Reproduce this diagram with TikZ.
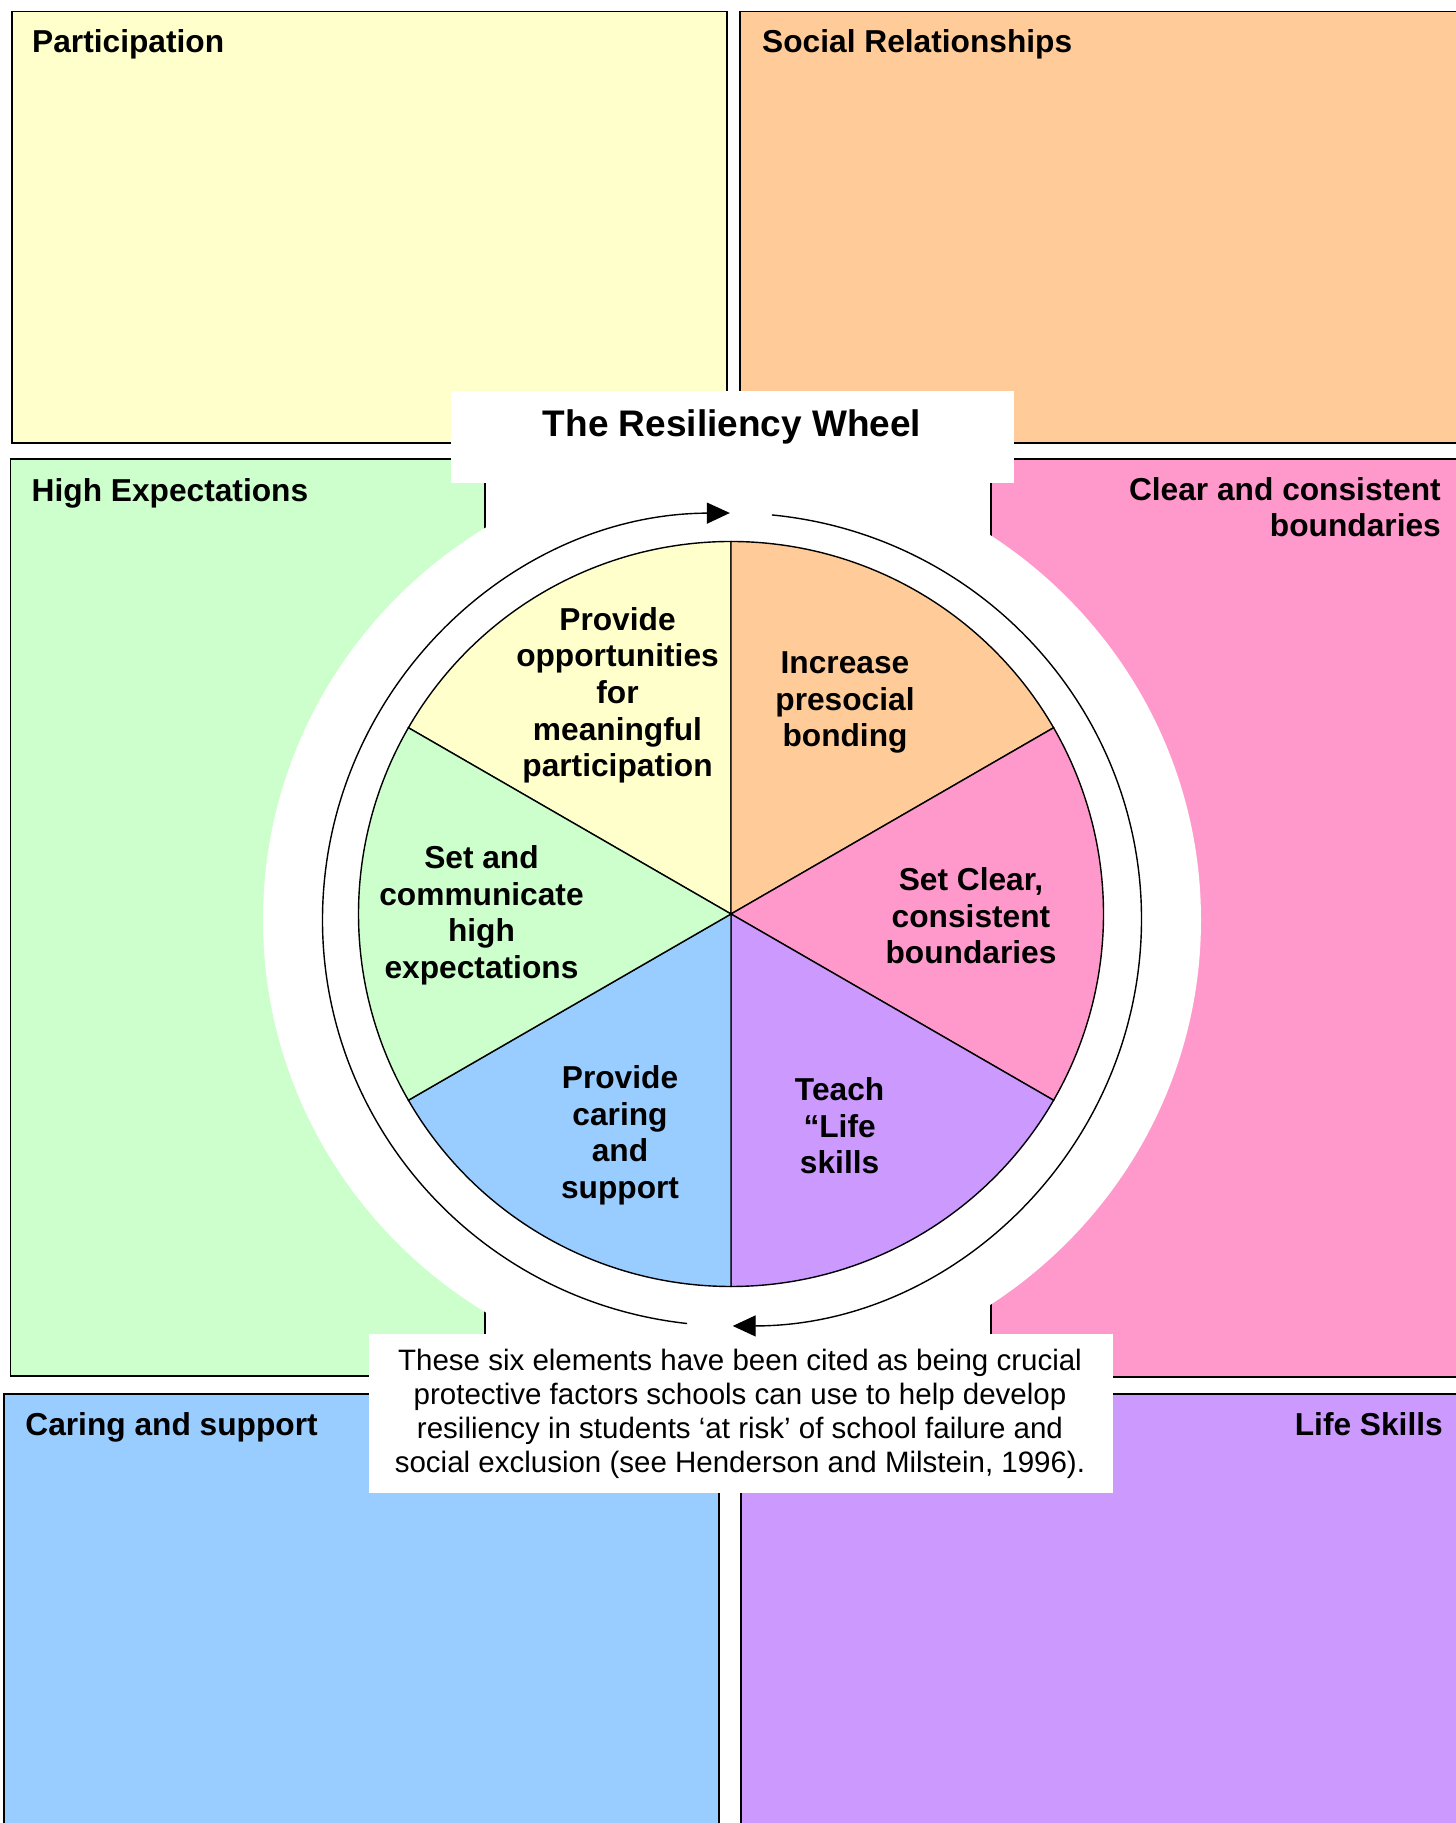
\documentclass[tikz,border=0pt]{standalone}
\usepackage{fontspec}
\setmainfont{Liberation Sans}
\usetikzlibrary{arrows.meta}

\definecolor{partyellow}{HTML}{FFFFCC}
\definecolor{socialpeach}{HTML}{FFCC99}
\definecolor{expgreen}{HTML}{CCFFCC}
\definecolor{boundpink}{HTML}{FF99CC}
\definecolor{careblue}{HTML}{99CCFF}
\definecolor{lifepurple}{HTML}{CC99FF}

\begin{document}
\begin{tikzpicture}[x=1pt,y=1pt,
  panel/.style={draw=black, line width=1.8pt},
  heading/.style={font=\fontsize{31.7}{36.6}\selectfont\bfseries, inner sep=0pt},
  slicetext/.style={font=\fontsize{31.7}{36.6}\selectfont\bfseries, align=center, inner sep=0pt},
  slice/.style={draw=black, line width=1.4pt},
  ringarrow/.style={line width=1.4pt, -{Triangle[length=23pt,width=21pt]}},
]
\useasboundingbox (0,0) rectangle (1456,1823);
\clip (0,0) rectangle (1456,1823);

% six coloured panels
\draw[panel, fill=partyellow]  (11.6,1380) rectangle (727,1811.5);
\draw[panel, fill=socialpeach] (740,1380) rectangle (1475,1811.5);
\draw[panel, fill=expgreen]    (10.5,447) rectangle (485,1364);
\draw[panel, fill=boundpink]   (991,446) rectangle (1475,1364);
\draw[panel, fill=careblue]    (4,-10) rectangle (719,429);
\draw[panel, fill=lifepurple]  (741,-10) rectangle (1475,429);

% white backdrop behind the wheel
\coordinate (disk) at (732,903);
\fill[white] (disk) ellipse [x radius=469, y radius=461];

% title and note panels
\fill[white] (451,1340) rectangle (1014,1432);
\fill[white] (368.5,330) rectangle (1113,489);

% the wheel
\coordinate (hub) at (731,909);
\filldraw[slice, fill=partyellow]  (hub) -- ++(90:372.5)  arc[start angle=90,  end angle=150, radius=372.5] -- cycle;
\filldraw[slice, fill=socialpeach] (hub) -- ++(30:372.5)  arc[start angle=30,  end angle=90,  radius=372.5] -- cycle;
\filldraw[slice, fill=boundpink]   (hub) -- ++(-30:372.5) arc[start angle=-30, end angle=30,  radius=372.5] -- cycle;
\filldraw[slice, fill=lifepurple]  (hub) -- ++(-90:372.5) arc[start angle=-90, end angle=-30, radius=372.5] -- cycle;
\filldraw[slice, fill=careblue]    (hub) -- ++(210:372.5) arc[start angle=210, end angle=270, radius=372.5] -- cycle;
\filldraw[slice, fill=expgreen]    (hub) -- ++(150:372.5) arc[start angle=150, end angle=210, radius=372.5] -- cycle;

% circular arrows around the wheel
\coordinate (ring) at (732,903.5);
\draw[ringarrow] (ring) ++(263.7:409.5 and 406.5)
  arc[start angle=263.7, end angle=90.3, x radius=409.5, y radius=406.5];
\draw[ringarrow] (ring) ++(84.4:409.5 and 406.5)
  arc[start angle=84.4, end angle=-89.9, x radius=409.5, y radius=406.5];

% slice labels
\node[slicetext] (lblpart)   at (617.5,1127.6) {Provide\\opportunities\\for\\meaningful\\participation};
\node[slicetext] (lblsocial) at (845,1120.5)   {Increase\\presocial\\bonding};
\node[slicetext] (lblbound)  at (971,907)      {Set Clear,\\consistent\\boundaries};
\node[slicetext] (lbllife)   at (839.6,697.2)  {Teach\\“Life\\skills};
\node[slicetext] (lblcare)   at (620,687.5)    {Provide\\caring\\and\\support};
\node[slicetext] (lblexp)    at (481.5,907.7)  {Set and\\communicate\\high\\expectations};

% panel headings
\node[heading, anchor=base west] (hpart)   at (32,1770)   {Participation};
\node[heading, anchor=base west] (hsocial) at (762,1770)  {Social Relationships};
\node[heading, anchor=base west] (hexp)    at (31.5,1321) {High Expectations};
\node[heading, anchor=north east, align=right] (hbound) at (1441,1346) {Clear and consistent\\boundaries};
\node[heading, anchor=base west] (hcare)   at (25.2,387)  {Caring and support};
\node[heading, anchor=base east] (hlife)   at (1443,387)  {Life Skills};

% title and note
\node[anchor=base, font=\fontsize{37}{43}\selectfont\bfseries, inner sep=0pt] (title) at (732,1386) {The Resiliency Wheel};
\node[align=center, font=\fontsize{29.5}{33.9}\selectfont, inner sep=0pt] (note) at (740,409.3)
  {These six elements have been cited as being crucial\\protective factors schools can use to help develop\\resiliency in students ‘at risk’ of school failure and\\social exclusion (see Henderson and Milstein, 1996).};
\end{tikzpicture}
\end{document}
